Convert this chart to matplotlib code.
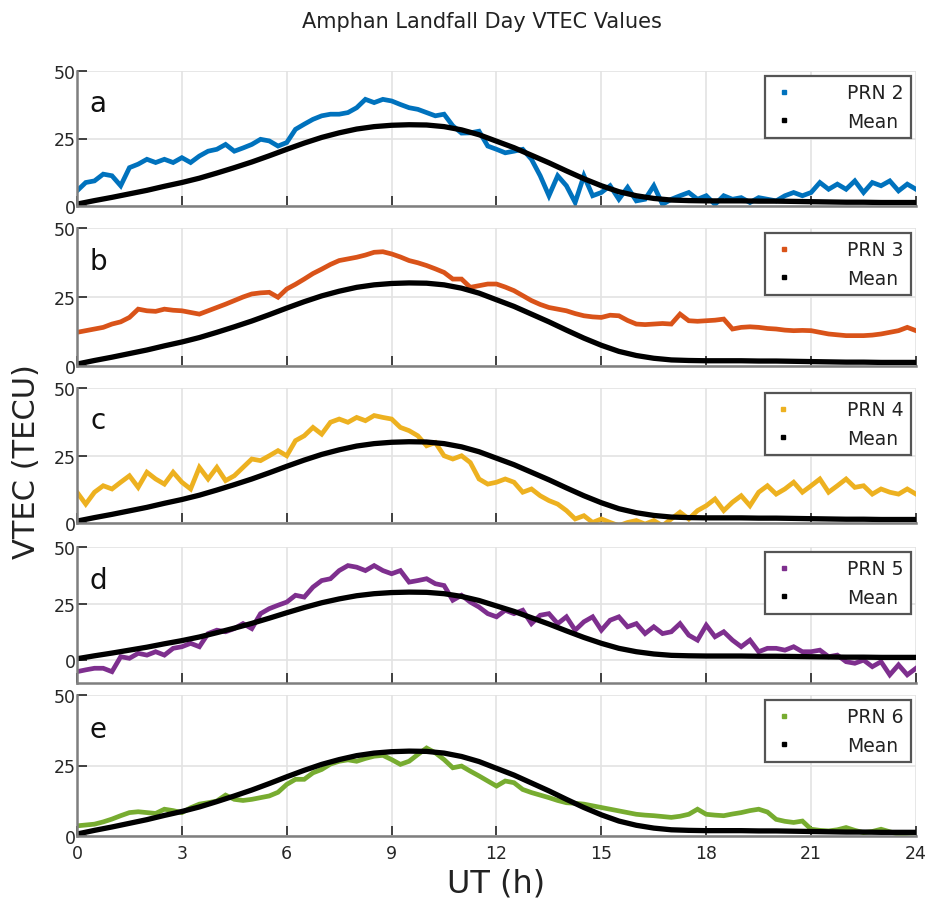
import matplotlib
matplotlib.use("Agg")
import matplotlib.pyplot as plt
from matplotlib.lines import Line2D
import numpy as np

# eixo de tempo (UT, horas)
horas = np.arange(0, 24.01, 0.25)
horas_media = np.arange(0, 24.01, 0.5)

media = [0.7, 2.0, 3.2, 4.5, 5.8, 7.3, 8.7, 10.3, 12.2, 14.2, 16.3, 18.6,
         21.0, 23.3, 25.4, 27.1, 28.5, 29.4, 29.9, 30.1, 30.0, 29.4, 28.2, 26.4,
         24.0, 21.6, 18.8, 16.0, 13.0, 10.1, 7.5, 5.3, 3.8, 2.8, 2.2, 2.0,
         1.9, 1.9, 1.9, 1.8, 1.8, 1.7, 1.6, 1.5, 1.4, 1.4, 1.3, 1.3, 1.3]

prn2 = [5.6, 8.7, 9.3, 11.8, 11.2, 7.5, 14.2, 15.5, 17.3, 16.1, 17.3, 16.1,
        17.9, 16.1, 18.5, 20.3, 21.0, 22.8, 20.3, 21.5, 22.8, 24.7, 24.1, 22.2,
        23.5, 28.4, 30.3, 32.1, 33.4, 34.0, 34.0, 34.6, 36.4, 39.5, 38.3, 39.5,
        38.9, 37.6, 36.4, 35.8, 34.6, 33.4, 34.0, 29.7, 27.0, 27.1, 27.7, 22.2,
        21.0, 19.7, 20.3, 21.0, 17.3, 11.2, 3.8, 11.2, 7.5, 1.3, 11.2, 3.8,
        5.0, 7.5, 2.5, 6.9, 1.9, 2.5, 7.5, 0.6, 2.5, 3.8, 5.0, 2.5,
        3.8, 0.6, 3.8, 2.5, 3.1, 1.3, 3.1, 2.5, 1.9, 3.8, 5.0, 3.8,
        5.0, 8.7, 6.2, 8.1, 6.2, 9.3, 5.0, 8.7, 7.5, 9.3, 5.6, 8.1, 6.2]

prn3 = [12.2, 12.8, 13.4, 14.0, 15.2, 16.0, 17.6, 20.6, 20.0, 19.8, 20.6, 20.2,
        20.0, 19.4, 18.8, 20.0, 21.2, 22.4, 23.7, 25.0, 26.1, 26.5, 26.7, 24.9,
        27.9, 29.6, 31.5, 33.5, 35.1, 36.8, 38.2, 38.8, 39.4, 40.2, 41.2, 41.4,
        40.6, 39.5, 38.2, 37.4, 36.4, 35.2, 33.9, 31.5, 31.5, 28.5, 29.1, 29.7,
        29.7, 28.6, 27.3, 25.5, 23.7, 22.3, 21.2, 20.6, 20.0, 19.0, 18.2, 17.8,
        17.6, 18.4, 18.2, 16.5, 15.2, 15.0, 15.2, 15.4, 15.2, 18.8, 16.4, 16.2,
        16.4, 16.6, 17.0, 13.4, 14.0, 14.2, 14.0, 13.6, 13.4, 13.0, 12.8, 12.9,
        12.8, 12.2, 11.6, 11.3, 11.0, 11.0, 11.0, 11.2, 11.6, 12.2, 12.8, 14.0, 12.8]

prn4 = [11.4, 7.0, 11.4, 13.8, 12.6, 15.1, 17.5, 13.2, 18.8, 16.3, 14.4, 18.8,
        15.1, 12.6, 20.6, 16.3, 20.6, 15.7, 17.5, 20.6, 23.7, 23.1, 24.9, 26.8,
        24.9, 30.5, 32.3, 35.4, 32.9, 37.3, 38.5, 37.3, 39.1, 37.9, 39.8, 39.1,
        38.5, 35.4, 34.2, 32.3, 28.6, 29.8, 24.9, 23.7, 24.9, 22.4, 16.3, 14.4,
        15.1, 16.3, 15.1, 11.4, 12.6, 10.1, 8.3, 7.0, 4.6, 1.5, 2.7, 0.2,
        1.5, 0.2, -1.0, 0.2, 0.9, -0.4, 0.9, -1.0, 1.5, 4.0, 1.5, 4.6,
        6.4, 8.9, 4.6, 7.7, 10.1, 6.4, 11.4, 13.8, 10.7, 12.6, 15.1, 11.4,
        13.8, 16.3, 11.4, 13.8, 16.3, 13.2, 13.8, 10.7, 12.6, 11.4, 10.7, 12.6, 10.7]

prn5 = [-5.0, -4.2, -3.5, -3.5, -5.0, 1.6, 0.9, 3.1, 2.3, 3.8, 2.3, 5.3,
        6.0, 7.5, 6.0, 11.8, 13.3, 12.6, 14.0, 16.2, 14.0, 20.6, 22.8, 24.3,
        25.7, 28.7, 27.9, 32.3, 35.2, 36.0, 39.6, 41.8, 41.1, 39.6, 41.8, 39.6,
        38.2, 39.6, 34.5, 35.2, 36.0, 33.8, 33.0, 26.5, 28.7, 25.7, 23.5, 20.6,
        19.2, 22.1, 20.6, 22.1, 16.2, 19.9, 20.6, 16.2, 19.2, 13.3, 17.0, 19.2,
        13.3, 17.7, 19.2, 14.8, 16.2, 11.8, 14.8, 11.8, 12.6, 16.2, 11.1, 8.9,
        15.5, 10.4, 12.6, 8.9, 6.0, 8.9, 3.8, 5.3, 5.3, 4.5, 6.0, 3.8,
        3.8, 4.5, 1.6, 2.3, -0.6, -1.3, 0.1, -2.8, -0.6, -6.4, -2.0, -6.4, -3.5]

prn6 = [3.6, 3.9, 4.2, 5.0, 6.0, 7.2, 8.3, 8.6, 8.3, 8.0, 9.5, 9.0,
        8.3, 10.0, 11.3, 11.8, 12.4, 14.5, 13.0, 12.6, 13.0, 13.6, 14.2, 15.5,
        18.3, 20.1, 20.1, 22.4, 23.6, 25.5, 26.5, 27.0, 26.5, 27.5, 28.3, 28.6,
        27.1, 25.4, 26.5, 28.9, 31.2, 29.5, 27.1, 24.2, 24.8, 23.0, 21.3, 19.5,
        17.7, 19.5, 18.9, 16.5, 15.4, 14.5, 13.6, 12.6, 11.8, 11.6, 11.3, 10.7,
        10.1, 9.5, 8.9, 8.3, 7.7, 7.4, 7.2, 6.9, 6.6, 7.0, 7.7, 9.5,
        7.7, 7.4, 7.2, 7.8, 8.3, 9.0, 9.5, 8.5, 5.9, 5.2, 4.8, 5.3,
        2.4, 2.0, 1.8, 2.2, 3.0, 2.0, 1.2, 1.6, 2.4, 1.5, 0.6, 0.9, 1.2]

series = [prn2, prn3, prn4, prn5, prn6]
nomes = ["PRN 2", "PRN 3", "PRN 4", "PRN 5", "PRN 6"]
letras = ["a", "b", "c", "d", "e"]
cores = ["#0072BD", "#D95319", "#EDB120", "#7E2F8E", "#77AC30"]
limites_y = [(0, 50), (0, 50), (0, 50), (-10, 50), (0, 50)]

# posicao dos paineis em pixels (topo, base)
W, H = 927, 912
paineis_px = [(72, 207), (229, 367), (389, 524), (548, 684), (696, 837)]
esq_px, dir_px = 77, 916

fig = plt.figure(figsize=(W / 100, H / 100), dpi=100)
cinza = "#7f7f7f"

for i, (topo, base) in enumerate(paineis_px):
    ax = fig.add_axes([esq_px / W, 1 - base / H, (dir_px - esq_px) / W, (base - topo) / H])
    ax.plot(horas, series[i], color=cores[i], lw=3.4, solid_joinstyle="miter")
    ax.plot(horas_media, media, color="black", lw=3.8)
    ax.set_xlim(0, 24)
    ax.set_ylim(*limites_y[i])
    ax.set_xticks(range(0, 25, 3))
    ax.set_yticks([0, 25, 50])
    ax.grid(True, color="#e3e3e3", lw=1.2)
    ax.set_axisbelow(True)
    for lado in ["top", "right"]:
        ax.spines[lado].set_visible(False)
    for lado in ["left", "bottom"]:
        ax.spines[lado].set_color(cinza)
        ax.spines[lado].set_linewidth(1.8)
    ax.tick_params(direction="in", length=7, width=1.3, color="#333333",
                   labelsize=12.5, labelcolor="#262626")
    ax.tick_params(axis="y", pad=1)
    ax.tick_params(axis="x", pad=6)
    if i < 4:
        ax.tick_params(labelbottom=False)
    ax.text(0.025, 0.76, letras[i], transform=ax.transAxes, fontsize=20,
            ha="center", va="center", color="#111111")
    h = [Line2D([], [], color=cores[i], marker="s", ls="none", ms=3.5),
         Line2D([], [], color="black", marker="s", ls="none", ms=3.5)]
    leg = ax.legend(h, [nomes[i], "Mean"], loc="upper right", fontsize=13.5,
                    handletextpad=2.8, borderaxespad=0.25, borderpad=0.4,
                    labelspacing=0.5, handlelength=1.2, fancybox=False,
                    framealpha=1)
    leg.get_frame().set_edgecolor("#555555")
    leg.get_frame().set_linewidth(1.6)
    for t in leg.get_texts():
        t.set_color("#222222")

fig.text(0.52, 1 - 22 / H, "Amphan Landfall Day VTEC Values", ha="center",
         va="center", fontsize=15, color="#222222")
fig.text(0.029, 1 - 462 / H, "VTEC (TECU)", rotation=90, ha="center",
         va="center", fontsize=22, color="#222222")
fig.text((esq_px + dir_px) / 2 / W, 1 - 884 / H, "UT (h)", ha="center",
         va="center", fontsize=23, color="#222222")

fig.savefig("out.png", dpi=100)
